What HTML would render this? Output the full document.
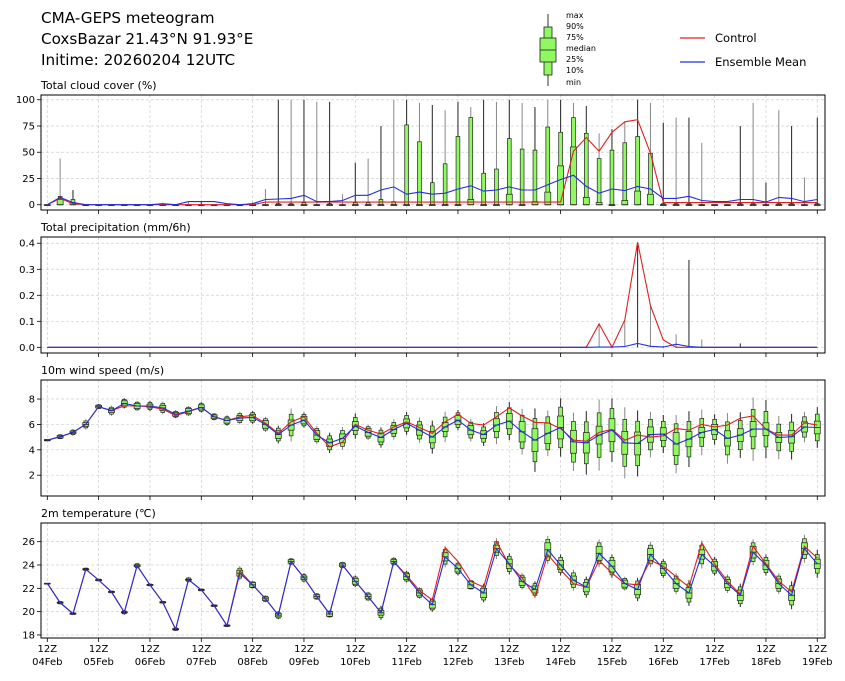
<!DOCTYPE html>
<html><head><meta charset="utf-8">
<style>
html,body{margin:0;padding:0;background:#fff;}
svg{display:block;font-family:"DejaVu Sans","Liberation Sans",sans-serif;}
</style></head>
<body>
<svg id="chart" width="845" height="681" viewBox="0 0 845 681">
<text x="41" y="23" font-size="15.2">CMA-GEPS meteogram</text>
<text x="41" y="44" font-size="15.2">CoxsBazar 21.43°N 91.93°E</text>
<text x="41" y="65" font-size="15.2">Initime: 20260204 12UTC</text>
<g>
<line x1="548" y1="14" x2="548" y2="86" stroke="#333" stroke-width="1"/>
<rect x="544" y="27" width="8" height="48" fill="#90f860" stroke="#222" stroke-width="0.8"/>
<rect x="540" y="38" width="16" height="24" fill="#90f860" stroke="#222" stroke-width="0.8"/>
<line x1="540" y1="50" x2="556" y2="50" stroke="#222" stroke-width="0.8"/>
<g font-size="8">
<text x="566" y="18">max</text><text x="566" y="29">90%</text><text x="566" y="40">75%</text>
<text x="566" y="51">median</text><text x="566" y="62">25%</text><text x="566" y="73">10%</text><text x="566" y="85">min</text>
</g></g>
<g>
<line x1="680" y1="38" x2="705" y2="38" stroke="#e02020" stroke-width="1.2"/>
<text x="715" y="42" font-size="11.5">Control</text>
<line x1="680" y1="62" x2="705" y2="62" stroke="#2030e0" stroke-width="1.2"/>
<text x="715" y="66" font-size="11.5">Ensemble Mean</text>
</g>
<g id="plots"></g>
</svg>
<script>
// ---- data ----
const dayLabels = ["04Feb","05Feb","06Feb","07Feb","08Feb","09Feb","10Feb","11Feb","12Feb","13Feb","14Feb","15Feb","16Feb","17Feb","18Feb","19Feb"];
const ccMean = [0,7,2,0,0,0,0,0,0,1, 0,3,3,3,1,0,1,5,5.5,6, 9,3,3,4,9,9,14,17,10,12, 10,11,15,18,13,14,17,14,14,19, 24,28,17.5,11,15,13.5,17.5,15,6,6, 8,4,3,3,5,5,2.5,7,6,3,5];
const ccCtrl = [0,6,1,0,0,0,0,0,0,0, 0,0,0,0,0,0,0,2.5,2.5,2.5, 2.5,2.5,2.5,2.5,2.5,2.5,2.5,2.5,2.5,2.5, 2.5,2.5,2.5,2.5,2.5,2.5,2.5,2.5,2.5,2.5, 2.5,51,64,51,69,79,81,49,2,2, 2,2,2,2,2,2,2,2,2,2,2];
const ccMax = [0,44,14,0,0,0,0,0,0,2, 0,3,3,0,1,0,2,15,100,100, 100,98,98,10,40,44,75,100,100,97, 95,90,98,93,100,98,100,97,93,100, 100,97,94,68,72,79,100,97,78,83, 83,59,0,0,75,97,21,90,75,26,83];
const cc90 = [0,8,5,0,0,0,0,0,0,0, 0,0,0,0,0,0,0,0,1,1, 2,0,1,0,2,2,5,3,76,60, 21,39,65,83,30,34,63,53,52,74, 69,83,68,44,52,59,65,49,1,1, 1,0,0,0,1,1,0,1,1,0,1];
const cc75 = [0,5,2,0,0,0,0,0,0,0, 0,0,0,0,0,0,0,0,0,0, 0,0,0,0,0,0,0,0,0,0, 0,0,0,5,0,0,10,0,3,12, 37,55,7,2,0,4,13,10,0,0, 0,0,0,0,0,0,0,0,0,0,0];
const prMean = [0,0,0,0,0,0,0,0,0,0, 0,0,0,0,0,0,0,0,0,0, 0,0,0,0,0,0,0,0,0,0, 0,0,0,0,0,0,0,0,0,0, 0,0,0,0.001,0.001,0.003,0.015,0.004,0.001,0.012, 0.003,0,0,0,0,0,0,0,0,0,0];
const prCtrl = [0,0,0,0,0,0,0,0,0,0, 0,0,0,0,0,0,0,0,0,0, 0,0,0,0,0,0,0,0,0,0, 0,0,0,0,0,0,0,0,0,0, 0,0,0,0.09,0,0.105,0.404,0.16,0.028,0, 0,0,0,0,0,0,0,0,0,0,0];
const prMax = [0,0,0,0,0,0,0,0,0,0, 0,0,0,0,0,0,0,0,0,0, 0,0,0,0,0,0,0,0,0,0, 0,0,0,0,0,0,0,0,0,0, 0.002,0.003,0.005,0.09,0,0.105,0.4,0.16,0.005,0.05, 0.336,0.03,0,0,0.015,0,0,0,0,0,0];
const wMean = [4.76,5.03,5.37,6.0,7.4,7.08,7.66,7.45,7.45,7.3, 6.8,7.05,7.34,6.6,6.3,6.5,6.55,6.0,5.2,5.95, 6.34,5.16,4.55,4.9,5.87,5.37,4.97,5.6,6.08,5.55, 5.0,5.8,6.34,5.55,5.2,5.95,6.26,5.42,4.76,5.3, 5.76,4.63,4.55,5.16,5.55,4.55,4.5,5.2,5.24,4.45, 4.84,5.37,5.6,4.9,5.16,5.63,5.63,4.97,5.03,5.8,5.76];
const wCtrl = [4.76,5.03,5.37,6.0,7.4,7.08,7.47,7.45,7.4,7.2, 6.7,7.0,7.34,6.6,6.3,6.6,6.7,6.1,5.3,6.2, 6.6,5.3,4.24,4.6,6.0,5.55,5.24,5.8,6.2,5.76, 5.3,6.2,6.8,6.08,5.95,6.6,7.3,6.66,6.16,6.13, 5.68,4.76,4.68,5.37,5.6,4.76,5.16,5.0,5.1,5.68, 5.55,6.0,5.8,5.95,6.5,6.66,5.63,5.16,5.16,6.13,5.95];
const wIqr = [0.05,0.1,0.1,0.15,0.1,0.15,0.2,0.2,0.15,0.2, 0.15,0.2,0.2,0.15,0.2,0.2,0.25,0.3,0.3,0.4, 0.3,0.35,0.3,0.35,0.35,0.3,0.35,0.3,0.35,0.4, 0.45,0.35,0.35,0.35,0.3,0.5,0.6,0.8,0.9,0.8, 0.9,0.9,0.8,0.7,0.9,0.9,0.9,0.6,0.5,0.9, 0.6,0.4,0.4,0.6,0.5,0.6,0.5,0.4,0.5,0.4,0.5];
const wRng = [0.05,0.2,0.25,0.4,0.2,0.4,0.4,0.4,0.4,0.5, 0.3,0.4,0.4,0.3,0.4,0.5,0.5,0.6,0.7,1.3, 0.6,0.7,0.8,0.9,1.0,0.6,0.8,0.8,0.9,1.0, 1.3,1.2,0.8,0.9,0.9,1.5,1.5,1.8,2.5,1.8, 2.3,2.3,2.5,2.8,2.5,2.8,2.6,1.8,1.5,2.3, 2.2,1.8,1.2,2.0,1.8,2.5,2.3,1.7,1.8,1.2,1.6];
const tMean = [22.43,20.77,19.83,23.63,22.71,21.69,19.94,23.94,22.29,20.8, 18.49,22.74,21.86,20.51,18.8,23.3,22.3,21.1,19.7,24.3, 22.9,21.3,19.8,24.0,22.6,21.3,19.9,24.3,23.0,21.6, 20.6,24.7,23.7,22.3,21.6,25.4,24.1,22.6,21.9,25.3, 24.0,22.7,22.1,25.0,23.9,22.4,21.9,24.9,23.7,22.4, 21.6,24.9,23.9,22.4,21.4,25.1,24.0,22.4,21.4,25.4,24.1];
const tCtrl = [22.43,20.77,19.83,23.63,22.71,21.69,19.94,23.94,22.29,20.8, 18.49,22.74,21.86,20.51,18.8,23.5,22.3,21.1,19.7,24.3, 22.9,21.3,19.8,24.0,22.6,21.3,19.9,24.3,23.1,21.8, 21.0,25.5,24.3,22.6,22.1,26.0,24.0,22.9,21.3,24.9, 23.6,22.4,22.1,24.4,23.3,22.4,22.3,24.4,23.9,23.0, 22.1,25.9,24.1,22.6,21.5,25.6,24.1,22.6,21.7,25.6,24.6];
const tIqr = [0,0.05,0.05,0.05,0.05,0.05,0.05,0.08,0.05,0.05, 0.05,0.05,0.05,0.05,0.05,0.25,0.2,0.15,0.15,0.15, 0.15,0.15,0.2,0.15,0.25,0.2,0.2,0.15,0.25,0.25, 0.3,0.35,0.3,0.3,0.4,0.3,0.4,0.35,0.3,0.6, 0.4,0.35,0.4,0.6,0.5,0.3,0.45,0.5,0.4,0.4, 0.45,0.4,0.4,0.35,0.45,0.5,0.4,0.4,0.45,0.5,0.4];
const tRng = [0,0.15,0.1,0.15,0.1,0.1,0.2,0.25,0.1,0.1, 0.15,0.25,0.1,0.1,0.1,0.6,0.3,0.3,0.35,0.3, 0.4,0.3,0.3,0.3,0.5,0.4,0.6,0.4,0.5,0.5, 0.6,0.9,0.6,0.4,0.8,0.9,0.9,0.7,0.7,1.2, 0.9,0.9,0.9,1.2,1.0,0.6,1.0,1.1,0.8,0.9, 1.1,1.2,0.8,0.8,1.0,1.1,0.9,0.9,1.2,1.2,1.2];

// ---- layout ----
const NS = "http://www.w3.org/2000/svg";
const root = document.getElementById("plots");
const X0 = 47.3, DX = 12.833, L = 41, R = 825;
const xs = i => X0 + i * DX;
function el(tag, attrs, parent) {
  const e = document.createElementNS(NS, tag);
  for (const k in attrs) e.setAttribute(k, attrs[k]);
  (parent || root).appendChild(e);
  return e;
}
const panels = [
  {name:"cloud", title:"Total cloud cover (%)", top:95, bot:210, vmin:-5, vmax:104.5, ticks:[0,25,50,75,100], fmt:v=>String(v)},
  {name:"precip", title:"Total precipitation (mm/6h)", top:237, bot:353, vmin:-0.0218, vmax:0.424, ticks:[0,0.1,0.2,0.3,0.4], fmt:v=>v.toFixed(1)},
  {name:"wind", title:"10m wind speed (m/s)", top:380, bot:496, vmin:0.36, vmax:9.5, ticks:[2,4,6,8], fmt:v=>String(v)},
  {name:"temp", title:"2m temperature (\u2103)", top:523, bot:638, vmin:17.74, vmax:27.6, ticks:[18,20,22,24,26], fmt:v=>String(v)}
];
panels.forEach(p => { p.y = v => p.bot - (v - p.vmin) / (p.vmax - p.vmin) * (p.bot - p.top); });

function drawAxes(p, last) {
  const g = el("g", {});
  
  
  const t = el("text", {x:L, y:p.top-6, "font-size":"11"}, g);
  t.textContent = p.title;
  
  
  for (let d = 0; d < dayLabels.length; d++) {
    const x = xs(d*4);
    el("line", {x1:x, y1:p.top, x2:x, y2:p.bot, stroke:"#d0d0d0", "stroke-width":0.7, "stroke-dasharray":"3,2"}, g);
    el("line", {x1:x, y1:p.bot, x2:x, y2:p.bot+4, stroke:"#000", "stroke-width":0.8}, g);
    if (last) {
      const a = el("text", {x:x, y:p.bot+14, "font-size":"10", "text-anchor":"middle"}, g);
      a.textContent = "12Z";
      
      
      const b = el("text", {x:x, y:p.bot+27, "font-size":"10", "text-anchor":"middle"}, g);
      b.textContent = dayLabels[d];
      
      
    }
  }
  p.ticks.forEach(v => {
    const y = p.y(v);
    el("line", {x1:L, y1:y, x2:R, y2:y, stroke:"#d0d0d0", "stroke-width":0.7, "stroke-dasharray":"3,2"}, g);
    el("line", {x1:L-4, y1:y, x2:L, y2:y, stroke:"#000", "stroke-width":0.8}, g);
    const tl = el("text", {x:L-6, y:y+3.5, "font-size":"10", "text-anchor":"end"}, g);
    tl.textContent = p.fmt(v);
    
    
  });
  return g;
}
function box(g, i, p, mn, p10, q25, med, q75, p90, mx) {
  const x = xs(i);
  const col = i % 2 ? "#888" : "#222";
  const w = el("line", {x1:x, y1:p.y(mn), x2:x, y2:p.y(mx), stroke:col, "stroke-width":1}, g);
  
  
  const y90 = p.y(p90), y10 = p.y(p10);
  const nb = el("rect", {x:x-1.9, y:y90, width:3.8, height:Math.max(0.8, y10-y90), fill:"#90f860", stroke:"#222", "stroke-width":0.7}, g);
  
  
  const y75 = p.y(q75), y25 = p.y(q25);
  const wb = el("rect", {x:x-3, y:y75, width:6, height:Math.max(0.8, y25-y75), fill:"#90f860", stroke:"#222", "stroke-width":0.7}, g);
  
  
  el("line", {x1:x-3, y1:p.y(med), x2:x+3, y2:p.y(med), stroke:"#222", "stroke-width":0.8}, g);
}
function line(g, p, arr, color, nm) {
  const pts = arr.map((v,i) => xs(i).toFixed(1) + "," + p.y(v).toFixed(1)).join(" ");
  const pl = el("polyline", {points:pts, fill:"none", stroke:color, "stroke-width":1.1}, g);
  
  
}
function frame(g, p) {
  el("rect", {x:L, y:p.top, width:R-L, height:p.bot-p.top, fill:"none", stroke:"#000", "stroke-width":1}, g);
}

// cloud
{
  const p = panels[0], g = drawAxes(p, false);
  for (let i = 0; i < 61; i++) box(g, i, p, 0, 0, 0, 0, cc75[i], cc90[i], ccMax[i]);
  line(g, p, ccCtrl, "#e02020", "cloud-control-line");
  line(g, p, ccMean, "#2030e0", "cloud-mean-line");
  frame(g, p);
}
// precip
{
  const p = panels[1], g = drawAxes(p, false);
  for (let i = 0; i < 61; i++) {
    if (prMax[i] > 0) {
      const w = el("line", {x1:xs(i), y1:p.y(0), x2:xs(i), y2:p.y(prMax[i]), stroke:i%2?"#888":"#222", "stroke-width":1}, g);
      
      
    }
  }
  line(g, p, prCtrl, "#e02020", "precip-control-line");
  line(g, p, prMean, "#2030e0", "precip-mean-line");
  frame(g, p);
}
// wind
{
  const p = panels[2], g = drawAxes(p, false);
  for (let i = 0; i < 61; i++) {
    const m = wMean[i], q = wIqr[i], r = wRng[i], h = (q + r) / 2;
    box(g, i, p, m-r, m-h, m-q, m, m+q, m+h, m+r);
  }
  line(g, p, wCtrl, "#e02020", "wind-control-line");
  line(g, p, wMean, "#2030e0", "wind-mean-line");
  frame(g, p);
}
// temperature
{
  const p = panels[3], g = drawAxes(p, true);
  for (let i = 0; i < 61; i++) {
    const m = tMean[i], q = tIqr[i], r = tRng[i], h = (q + r) / 2;
    box(g, i, p, m-r, m-h, m-q, m, m+q, m+h, m+r);
  }
  line(g, p, tCtrl, "#e02020", "temp-control-line");
  line(g, p, tMean, "#2030e0", "temp-mean-line");
  frame(g, p);
}
</script>
</body></html>
